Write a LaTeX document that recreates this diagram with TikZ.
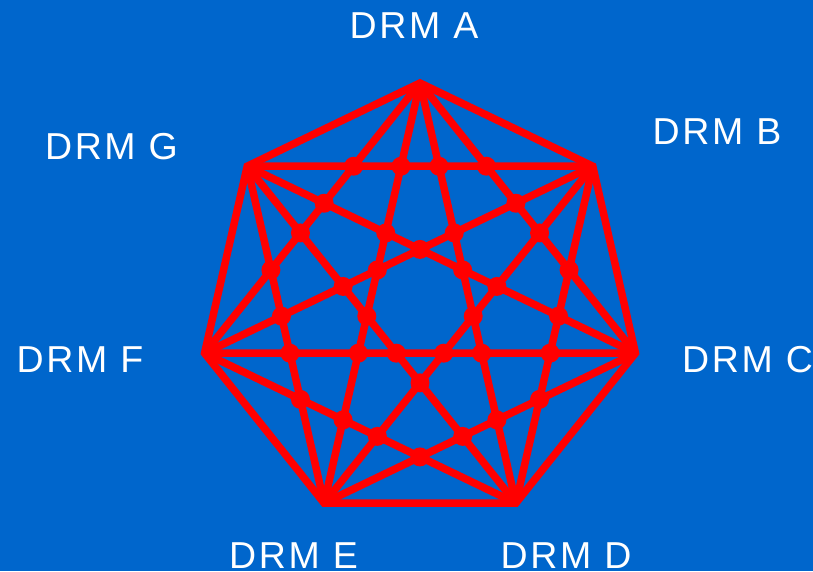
\documentclass[tikz,border=0pt]{standalone}
\usepackage{fontspec}
\usetikzlibrary{intersections}
\newfontfamily\labfont{Liberation Sans}[LetterSpace=7]
\definecolor{bgblue}{HTML}{0066CC}
\definecolor{linered}{HTML}{FF0000}
\tikzset{
  edge/.style={draw=linered, line width=7.5pt, line cap=butt},
  rim/.style={draw=linered, line width=7.5pt, line join=miter},
  hop/.style={fill=linered},
  lab/.style={text=white, inner sep=0pt, anchor=base, font=\labfont\fontsize{37.5}{40}\selectfont}
}
\begin{document}
\begin{tikzpicture}[x=1pt,y=-1pt]
\fill[bgblue] (0,0) rectangle (813,571);
\useasboundingbox (0,0) rectangle (813,571);
\foreach \k in {0,...,6}{
  \coordinate (v\k) at ({420+221*cos(90-\k*360/7)},{304-221*sin(90-\k*360/7)});
}
% outer heptagon
\draw[rim] (v0) -- (v1) -- (v2) -- (v3) -- (v4) -- (v5) -- (v6) -- cycle;
% diagonals
\foreach \i/\j in {0/2,0/3,0/4,0/5,1/3,1/4,1/5,1/6,2/4,2/5,2/6,3/5,3/6,4/6}{
  \draw[edge] (v\i) -- (v\j);
}
% crossing hops
\foreach \a/\c/\b/\d in {0/1/2/3,0/1/2/4,0/1/2/5,0/1/2/6,0/1/3/4,0/1/3/5,0/1/3/6,0/1/4/5,0/1/4/6,0/1/5/6,
  0/2/3/4,0/2/3/5,0/2/3/6,0/2/4/5,0/2/4/6,0/2/5/6,0/3/4/5,0/3/4/6,0/3/5/6,0/4/5/6,
  1/2/3/4,1/2/3/5,1/2/3/6,1/2/4/5,1/2/4/6,1/2/5/6,1/3/4/5,1/3/4/6,1/3/5/6,1/4/5/6,
  2/3/4/5,2/3/4/6,2/3/5/6,2/4/5/6,3/4/5/6}{
  \path[name path=pa] (v\a) -- (v\b);
  \path[name path=pb] (v\c) -- (v\d);
  \fill[hop, name intersections={of=pa and pb}] (intersection-1) circle (9.5);
}
% labels
\node[lab] (la) at (414,38) {DRM A};
\node[lab] (lb) at (717,144) {DRM B};
\node[lab, anchor=base west] (lc) at (682,372) {DRM C};
\node[lab] (ld) at (566,568) {DRM D};
\node[lab] (le) at (293.5,568) {DRM E};
\node[lab] (lf) at (80,372) {DRM F};
\node[lab] (lg) at (111.5,159) {DRM G};
\end{tikzpicture}
\end{document}
